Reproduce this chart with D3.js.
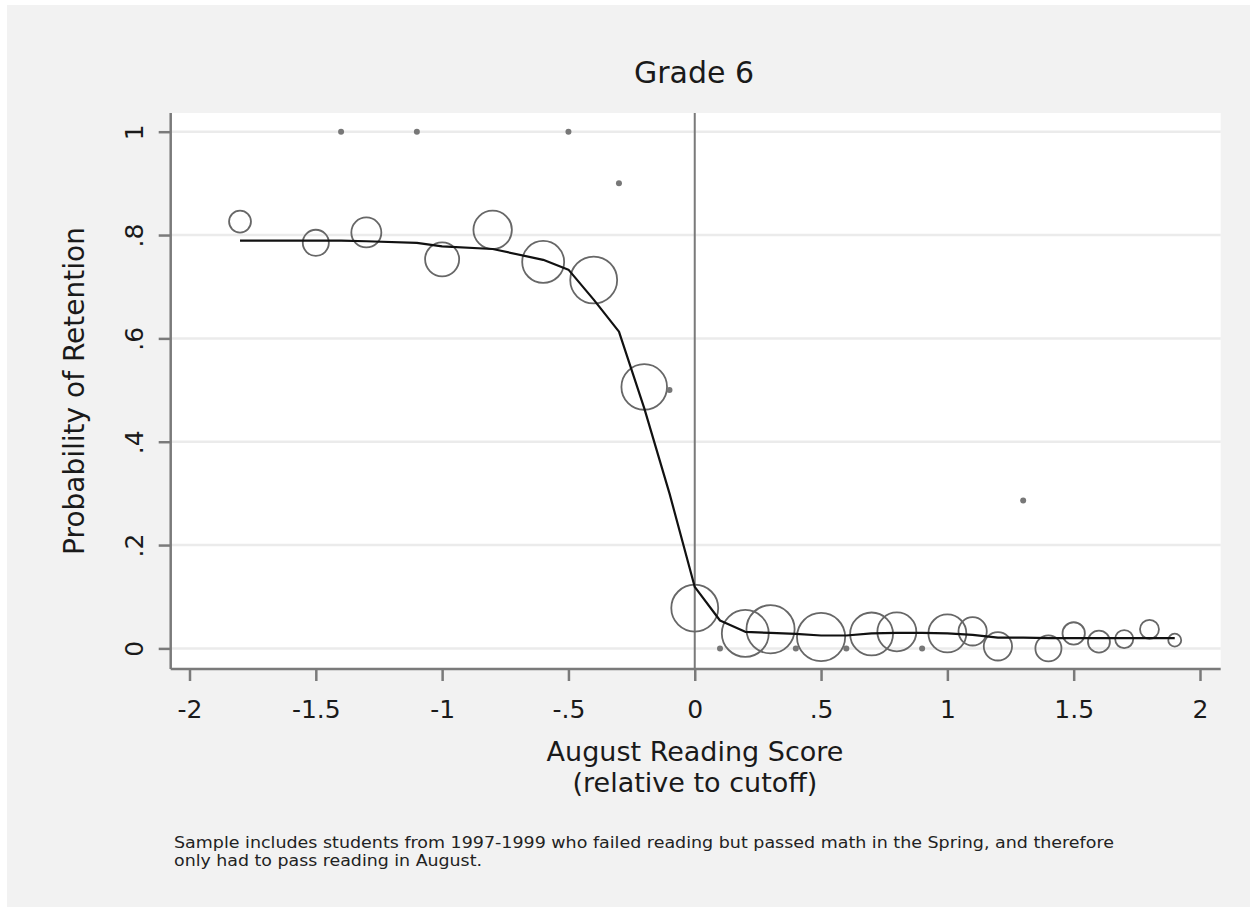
<!DOCTYPE html>
<html>
<head>
<meta charset="utf-8">
<script src="https://cdn.jsdelivr.net/npm/d3@7"></script>
<style>
    body { margin: 0; background: #fff; }
    svg { display: block; }
</style>
</head>
<body>
<svg id="chart" width="1250" height="907"></svg>
<script>
'use strict';

// bins with enough students: hollow circles sized by count
var binX = [-1.8, -1.5, -1.3, -1.0, -0.8, -0.6, -0.4, -0.2, 0.0, 0.2, 0.3, 0.5, 0.7, 0.8, 1.0, 1.1, 1.2, 1.4, 1.5, 1.6, 1.7, 1.8, 1.9];
var binY = [0.826, 0.785, 0.805, 0.753, 0.810, 0.748, 0.713, 0.506, 0.078, 0.029, 0.037, 0.022, 0.028, 0.032, 0.029, 0.033, 0.004, 0.000, 0.029, 0.013, 0.018, 0.037, 0.016];
var binCount = [120, 170, 225, 290, 370, 440, 550, 520, 550, 550, 580, 580, 460, 380, 360, 200, 200, 170, 125, 121, 82, 90, 42];

// tiny bins drawn as dots
var dotX = [-1.4, -1.1, -0.5, -0.3, -0.1, 0.1, 0.4, 0.6, 0.9, 1.3];
var dotY = [1.0, 1.0, 1.0, 0.9, 0.5, 0.0, 0.0, 0.0, 0.0, 0.286];

// smoothed fit
var fitX = [-1.8, -1.5, -1.4, -1.3, -1.1, -1.0, -0.8, -0.6, -0.5, -0.4, -0.3, -0.2, -0.1, 0.0, 0.1, 0.2, 0.3, 0.4, 0.5, 0.6, 0.7, 0.8, 0.9, 1.0, 1.1, 1.2, 1.3, 1.4, 1.5, 1.6, 1.7, 1.8, 1.9];
var fitY = [0.789, 0.789, 0.789, 0.788, 0.785, 0.778, 0.773, 0.752, 0.733, 0.675, 0.613, 0.465, 0.300, 0.119, 0.054, 0.032, 0.030, 0.028, 0.025, 0.025, 0.029, 0.030, 0.030, 0.029, 0.026, 0.021, 0.021, 0.020, 0.020, 0.020, 0.020, 0.020, 0.020];

var xTicks = [-2, -1.5, -1, -0.5, 0, 0.5, 1, 1.5, 2];
var xTickLabels = ['-2', '-1.5', '-1', '-.5', '0', '.5', '1', '1.5', '2'];
var yTicks = [0, 0.2, 0.4, 0.6, 0.8, 1];
var yTickLabels = ['0', '.2', '.4', '.6', '.8', '1'];

var TITLE = 'Grade 6';
var X_TITLE = ['August Reading Score', '(relative to cutoff)'];
var Y_TITLE = 'Probability of Retention';
var NOTE = [
    'Sample includes students from 1997-1999 who failed reading but passed math in the Spring, and therefore',
    'only had to pass reading in August.'
];

var FONT = '"DejaVu Sans", Verdana, sans-serif';
var AXIS_COLOR = '#7a7a7a';
var MARKER_COLOR = '#676767';

var plot = { left: 170.7, right: 1220.7, top: 113, bottom: 669 };

var svg = d3.select('#chart');

var x = d3.scaleLinear().domain([-2, 2]).range([189.5, 1200]);
var y = d3.scaleLinear().domain([0, 1]).range([648.4, 131.7]);
var r = d3.scaleSqrt().domain([0, 600]).range([0, 24.5]);

function zip(xs, ys) {
    return xs.map(function (v, i) {
        return { x: v, y: ys[i], i: i };
    });
}

// backgrounds
svg.append('rect')
    .attr('x', 7).attr('y', 5)
    .attr('width', 1243).attr('height', 902)
    .attr('fill', '#f2f2f2');

svg.append('rect')
    .attr('x', plot.left).attr('y', plot.top)
    .attr('width', plot.right - plot.left)
    .attr('height', plot.bottom - plot.top)
    .attr('fill', '#fff');

// grid
svg.append('g').selectAll('line')
    .data(yTicks)
    .enter()
    .append('line')
    .attr('x1', plot.left)
    .attr('x2', plot.right)
    .attr('y1', y)
    .attr('y2', y)
    .attr('stroke', '#ebebeb')
    .attr('stroke-width', 2.5);

// cutoff line
svg.append('line')
    .attr('x1', x(0)).attr('x2', x(0))
    .attr('y1', plot.top).attr('y2', plot.bottom)
    .attr('stroke', AXIS_COLOR)
    .attr('stroke-width', 2);

// circles
svg.append('g').selectAll('circle')
    .data(zip(binX, binY))
    .enter()
    .append('circle')
    .attr('cx', function (d) { return x(d.x); })
    .attr('cy', function (d) { return y(d.y); })
    .attr('r', function (d) { return r(binCount[d.i]); })
    .attr('fill', 'none')
    .attr('stroke', MARKER_COLOR)
    .attr('stroke-width', 1.8);

// dots
svg.append('g').selectAll('circle')
    .data(zip(dotX, dotY))
    .enter()
    .append('circle')
    .attr('cx', function (d) { return x(d.x); })
    .attr('cy', function (d) { return y(d.y); })
    .attr('r', 3)
    .attr('fill', '#777');

// fit
var line = d3.line()
    .x(function (d) { return x(d.x); })
    .y(function (d) { return y(d.y); });

svg.append('path')
    .datum(zip(fitX, fitY))
    .attr('d', line)
    .attr('fill', 'none')
    .attr('stroke', '#111')
    .attr('stroke-width', 2.2)
    .attr('stroke-linejoin', 'round');

// axes
var xAxis = d3.axisBottom(x)
    .tickValues(xTicks)
    .tickSize(12)
    .tickFormat(function (d, i) { return xTickLabels[i]; });

var gx = svg.append('g')
    .attr('transform', 'translate(0,' + plot.bottom + ')')
    .call(xAxis);

var yAxis = d3.axisLeft(y)
    .tickValues(yTicks)
    .tickSize(12)
    .tickFormat(function (d, i) { return yTickLabels[i]; });

var gy = svg.append('g')
    .attr('transform', 'translate(' + plot.left + ',0)')
    .call(yAxis);

[gx, gy].forEach(function (g) {
    g.select('.domain').remove();
    g.selectAll('.tick line')
        .attr('stroke', AXIS_COLOR)
        .attr('stroke-width', 2.5);
    g.selectAll('.tick text')
        .attr('fill', '#1a1a1a')
        .style('font-family', FONT)
        .style('font-size', '25px');
});

gx.selectAll('.tick text')
    .attr('y', 49)
    .attr('dy', 0);

gy.selectAll('.tick text')
    .attr('x', 0)
    .attr('y', -28)
    .attr('dy', 0)
    .attr('text-anchor', 'middle')
    .attr('transform', 'rotate(-90)');

svg.append('line')
    .attr('x1', plot.left).attr('x2', plot.right)
    .attr('y1', plot.bottom).attr('y2', plot.bottom)
    .attr('stroke', AXIS_COLOR)
    .attr('stroke-width', 2.5);

svg.append('line')
    .attr('x1', plot.left).attr('x2', plot.left)
    .attr('y1', plot.top).attr('y2', plot.bottom)
    .attr('stroke', AXIS_COLOR)
    .attr('stroke-width', 2.5);

// texts
svg.append('text')
    .attr('x', 694).attr('y', 83)
    .attr('text-anchor', 'middle')
    .attr('fill', '#1a1a1a')
    .style('font-family', FONT)
    .style('font-size', '30px')
    .text(TITLE);

svg.append('g').selectAll('text')
    .data(X_TITLE)
    .enter()
    .append('text')
    .attr('x', 695)
    .attr('y', function (d, i) { return 761 + i * 31; })
    .attr('text-anchor', 'middle')
    .attr('fill', '#1a1a1a')
    .style('font-family', FONT)
    .style('font-size', '27px')
    .text(function (d) { return d; });

svg.append('text')
    .attr('transform', 'translate(84,391) rotate(-90)')
    .attr('text-anchor', 'middle')
    .attr('fill', '#1a1a1a')
    .style('font-family', FONT)
    .style('font-size', '28px')
    .text(Y_TITLE);

var noteWidths = [940, 308];
svg.append('g').selectAll('text')
    .data(NOTE)
    .enter()
    .append('text')
    .attr('x', 174)
    .attr('y', function (d, i) { return 848 + i * 18; })
    .attr('textLength', function (d, i) { return noteWidths[i]; })
    .attr('lengthAdjust', 'spacingAndGlyphs')
    .attr('fill', '#222')
    .style('font-family', FONT)
    .style('font-size', '15px')
    .text(function (d) { return d; });
</script>
</body>
</html>
